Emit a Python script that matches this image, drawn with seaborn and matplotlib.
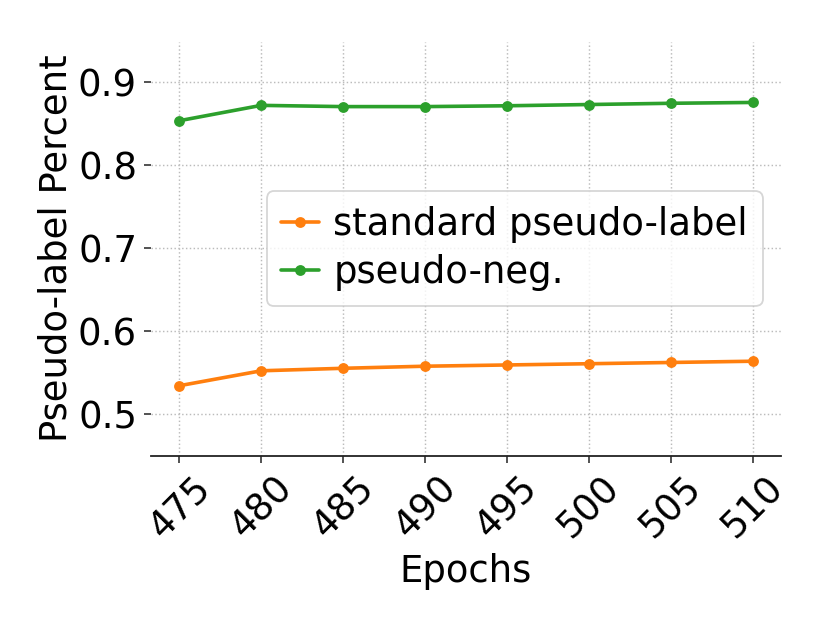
import matplotlib
matplotlib.use("Agg")
import matplotlib.pyplot as plt
import seaborn as sns
import pandas as pd

epochs = [475, 480, 485, 490, 495, 500, 505, 510]
standard_pl = [0.534, 0.552, 0.555, 0.5575, 0.559, 0.5605, 0.562, 0.5635]
pseudo_neg = [0.853, 0.8715, 0.870, 0.870, 0.871, 0.8725, 0.874, 0.875]
series_names = ["standard pseudo-label", "pseudo-neg."]
colors = ["#ff7f0e", "#2ca02c"]

df = pd.concat([
    pd.DataFrame({"Epochs": epochs, "value": standard_pl, "series": series_names[0]}),
    pd.DataFrame({"Epochs": epochs, "value": pseudo_neg, "series": series_names[1]}),
])

sns.set_style("white")
plt.rcParams['font.family'] = ['DejaVu Sans']
plt.rcParams['text.color'] = 'black'
plt.rcParams['axes.labelcolor'] = 'black'
plt.rcParams['xtick.color'] = 'black'
plt.rcParams['ytick.color'] = 'black'

FS = 20.5

fig = plt.figure(figsize=(6.4, 4.8), dpi=130)
ax = fig.add_axes([0.181, 0.270, 0.758, 0.663])

sns.lineplot(data=df, x="Epochs", y="value", hue="series", palette=colors,
             marker="o", markersize=6, markeredgewidth=0, linewidth=2, ax=ax)

ax.set_ylim(0.45, 0.948)
ax.set_xticks(epochs)
ax.set_yticks([0.5, 0.6, 0.7, 0.8, 0.9])
ax.grid(True, linestyle=":", color="#bbbbbb", linewidth=0.8)
ax.set_axisbelow(True)
for s in ["top", "right", "left"]:
    ax.spines[s].set_visible(False)
ax.spines["bottom"].set_color("#222222")
ax.spines["bottom"].set_linewidth(1.0)
ax.tick_params(axis="both", which="both", labelsize=FS, length=4, width=1,
               color="#444444", labelcolor="black", left=True, bottom=True)
plt.setp(ax.get_xticklabels(), rotation=45)
ax.set_xlabel("Epochs", fontsize=FS, color="black")
ax.set_ylabel("Pseudo-label Percent", fontsize=FS, color="black", labelpad=2)

leg = ax.legend(loc="center right", fontsize=FS, frameon=True, handlelength=1.0,
                handletextpad=0.4, borderpad=0.4, labelspacing=0.3)
leg.set_title(None)
for t in leg.get_texts():
    t.set_color("black")

fig.savefig("out.png", dpi=130)
